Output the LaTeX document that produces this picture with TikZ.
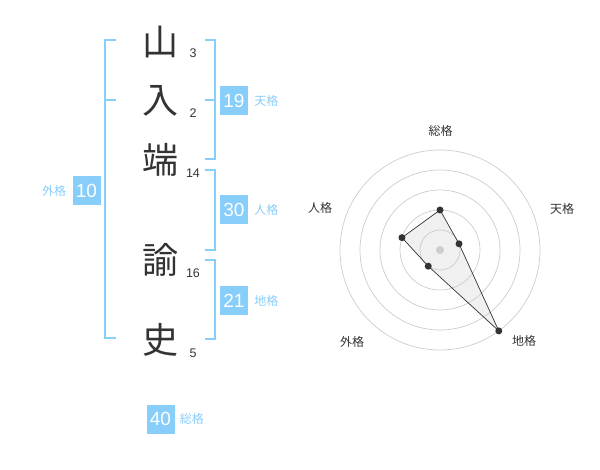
\documentclass[tikz,border=0pt]{standalone}
\usepackage{fontspec}
\setmainfont{Liberation Sans}
\newfontfamily\jpfont{Noto Sans CJK JP}
\usetikzlibrary{positioning}
\definecolor{skyline}{HTML}{87CEFA}
\definecolor{inkgray}{HTML}{333333}
\definecolor{ringgray}{HTML}{CCCCCC}
\definecolor{areagray}{HTML}{F0F0F0}

\begin{document}
\begin{tikzpicture}[
      x=1pt, y=-1pt,
      kanji/.style={text=inkgray, inner sep=0pt, font=\jpfont\fontsize{36}{36}\selectfont},
      strokes/.style={text=inkgray, inner sep=0pt, font=\fontsize{12.5}{12.5}\selectfont},
      bracket/.style={draw=skyline, line width=1.6pt},
      kakubox/.style={fill=skyline, text=white, minimum width=28, minimum height=29, inner sep=0pt, font=\fontsize{19}{19}\selectfont},
      kakulbl/.style={text=skyline, inner sep=0pt, font=\jpfont\fontsize{12}{12}\selectfont},
      ring/.style={draw=ringgray, line width=0.7pt},
      axislbl/.style={text=inkgray, inner sep=0pt, font=\jpfont\fontsize{12}{12}\selectfont},
      dot/.style={circle, fill=inkgray, inner sep=0pt, minimum size=7}
    ]
    \useasboundingbox (0,0) rectangle (600,470);

    % Name characters and stroke counts
    \node[kanji] (c1) at (160,42) {山};
    \node[kanji] (c2) at (160,101) {入};
    \node[kanji] (c3) at (160,160) {端};
    \node[kanji] (c4) at (160,260) {諭};
    \node[kanji] (c5) at (160,340) {史};
    \node[strokes] (n1) at (193,53) {3};
    \node[strokes] (n2) at (193,113) {2};
    \node[strokes] (n3) at (193,173) {14};
    \node[strokes] (n4) at (193,273) {16};
    \node[strokes] (n5) at (193,353) {5};

    % Brackets
    \draw[bracket] (116,40) -- (105,40) -- (105,338) -- (116,338);
    \draw[bracket] (105,100) -- (116,100);
    \draw[bracket] (205,40) -- (215,40) -- (215,159) -- (205,159);
    \draw[bracket] (205,100) -- (215,100);
    \draw[bracket] (205,170) -- (215,170) -- (215,250) -- (205,250);
    \draw[bracket] (205,260) -- (215,260) -- (215,339) -- (205,339);

    % Kaku values
    \node[kakubox] (ten) at (234,100.5) {19};
    \node[kakulbl, right=6pt of ten] (tenlbl) {天格};
    \node[kakubox] (jin) at (234,210) {30};
    \node[kakulbl, right=6pt of jin] (jinlbl) {人格};
    \node[kakubox] (chi) at (234,300.5) {21};
    \node[kakulbl, right=6pt of chi] (chilbl) {地格};
    \node[kakubox] (gai) at (86.5,190.5) {10};
    \node[kakulbl, left=6pt of gai] (gailbl) {外格};
    \node[kakubox] (sou) at (160.5,419) {40};
    \node[kakulbl, right=5pt of sou] (soulbl) {総格};

    % Radar chart
    \begin{scope}[shift={(440,250)}, y=1pt]
      \coordinate (psou) at (90:40);
      \coordinate (pten) at (18:20);
      \coordinate (pchi) at (-54:100);
      \coordinate (pgai) at (234:20);
      \coordinate (pjin) at (162:40);
      \fill[areagray] (psou) -- (pten) -- (pchi) -- (pgai) -- (pjin) -- cycle;
      \foreach \r in {20,40,...,100}
        \draw[ring] (0,0) circle (\r);
      \fill[ringgray] (0,0) circle (4);
      \draw[inkgray, line width=0.7pt] (psou) -- (pten) -- (pchi) -- (pgai) -- (pjin) -- cycle;
      \foreach \p in {psou,pten,pchi,pgai,pjin}
        \node[dot] at (\p) {};
      \node[axislbl] (asou) at (0.7,119.5) {総格};
      \node[axislbl] (aten) at (122,41) {天格};
      \node[axislbl] (achi) at (84,-91) {地格};
      \node[axislbl] (agai) at (-88,-92) {外格};
      \node[axislbl] (ajin) at (-120,42) {人格};
    \end{scope}
  \end{tikzpicture}
\end{document}
